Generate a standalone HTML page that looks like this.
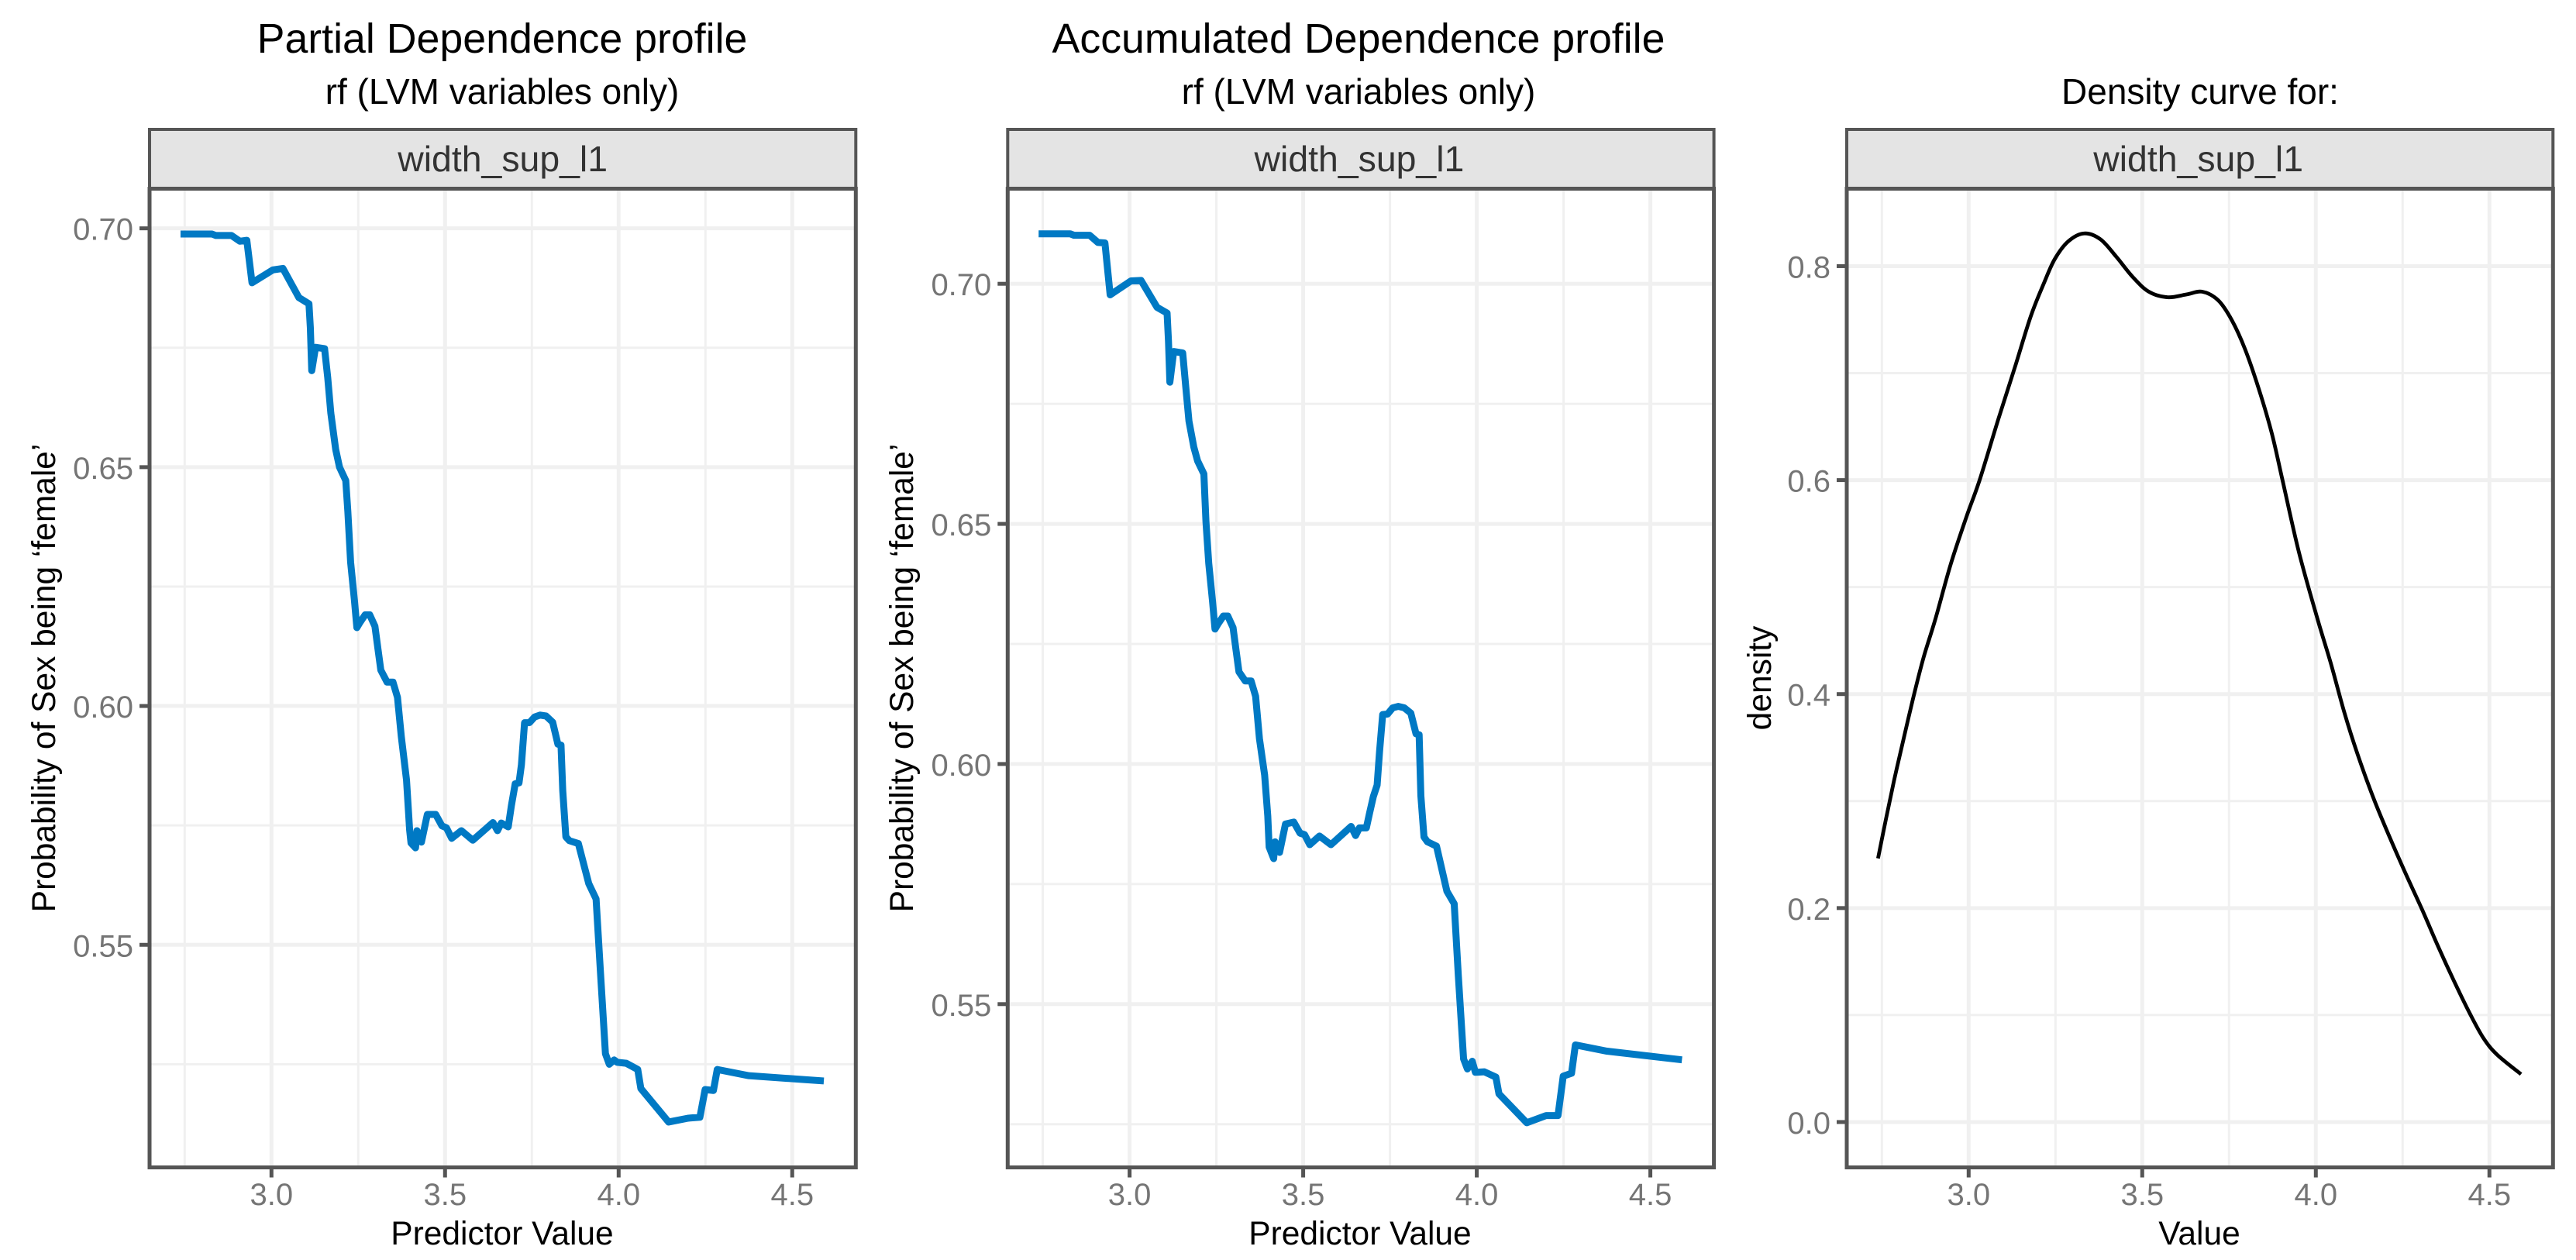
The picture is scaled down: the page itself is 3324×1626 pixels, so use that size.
<!DOCTYPE html>
<html lang="en">
<head>
<meta charset="utf-8">
<title>Partial and Accumulated Dependence profiles</title>
<style>
html,body{margin:0;padding:0;background:#fff;width:3324px;height:1626px;overflow:hidden}
svg{display:block;font-family:"Liberation Sans",Arial,sans-serif}
</style>
</head>
<body>
<svg id="chart" xmlns="http://www.w3.org/2000/svg" width="3324" height="1626" viewBox="0 0 3324 1626">
  <rect x="0" y="0" width="3324" height="1626" fill="#ffffff"/>
  <text x="648" y="68" font-size="53.7" text-anchor="middle" fill="#000">Partial Dependence profile</text>
  <text x="648" y="134" font-size="46" text-anchor="middle" fill="#000">rf (LVM variables only)</text>
  <text x="1753" y="68" font-size="53.7" text-anchor="middle" fill="#000">Accumulated Dependence profile</text>
  <text x="1753" y="134" font-size="46" text-anchor="middle" fill="#000">rf (LVM variables only)</text>
  <text x="2839" y="134" font-size="46" text-anchor="middle" fill="#000">Density curve for:</text>
  <text transform="translate(71 875) rotate(-90)" font-size="42.5" text-anchor="middle" fill="#000">Probability of Sex being ‘female’</text>
  <text transform="translate(1178 875) rotate(-90)" font-size="42.5" text-anchor="middle" fill="#000">Probability of Sex being ‘female’</text>
  <text transform="translate(2285 875) rotate(-90)" font-size="42.5" text-anchor="middle" fill="#000">density</text>
  <text x="648" y="1606" font-size="42.5" text-anchor="middle" fill="#000">Predictor Value</text>
  <text x="1755" y="1606" font-size="42.5" text-anchor="middle" fill="#000">Predictor Value</text>
  <text x="2838" y="1606" font-size="42.5" text-anchor="middle" fill="#000">Value</text>
</svg>
<script>
const predictorValues = [2.738,2.829,2.840,2.885,2.909,2.929,2.944,3.004,3.033,3.079,3.108,3.112,3.116,3.127,3.153,3.162,3.171,3.185,3.196,3.214,3.220,3.228,3.239,3.246,3.255,3.270,3.283,3.298,3.307,3.315,3.333,3.350,3.363,3.374,3.389,3.398,3.402,3.415,3.419,3.432,3.449,3.473,3.491,3.504,3.519,3.547,3.580,3.638,3.651,3.662,3.682,3.691,3.702,3.713,3.720,3.729,3.743,3.758,3.774,3.791,3.810,3.825,3.834,3.839,3.848,3.858,3.884,3.914,3.935,3.947,3.962,3.973,3.987,3.996,4.022,4.055,4.064,4.144,4.200,4.234,4.249,4.273,4.284,4.375,4.591];
const partialDependence = [0.6988,0.6988,0.6985,0.6985,0.6973,0.6975,0.6886,0.6913,0.6916,0.6855,0.6842,0.6792,0.6702,0.6751,0.6748,0.6688,0.6613,0.6537,0.6500,0.6472,0.6407,0.6301,0.6221,0.6164,0.6175,0.6191,0.6191,0.6167,0.6118,0.6075,0.6050,0.6050,0.6018,0.5936,0.5845,0.5740,0.5713,0.5703,0.5739,0.5715,0.5773,0.5773,0.5749,0.5745,0.5723,0.5739,0.5719,0.5756,0.5739,0.5755,0.5747,0.5791,0.5837,0.5839,0.5877,0.5965,0.5965,0.5977,0.5981,0.5979,0.5966,0.5920,0.5918,0.5823,0.5726,0.5718,0.5712,0.5628,0.5596,0.5450,0.5272,0.5250,0.5259,0.5254,0.5252,0.5239,0.5199,0.5129,0.5137,0.5139,0.5197,0.5195,0.5239,0.5226,0.5215];
const accumulatedDependence = [0.7104,0.7104,0.7101,0.7101,0.7086,0.7085,0.6977,0.7006,0.7007,0.6951,0.6939,0.6881,0.6795,0.6859,0.6856,0.6784,0.6714,0.6660,0.6631,0.6604,0.6504,0.6418,0.6338,0.6281,0.6292,0.6308,0.6308,0.6284,0.6235,0.6192,0.6173,0.6173,0.6141,0.6053,0.5977,0.5892,0.5827,0.5803,0.5838,0.5816,0.5875,0.5879,0.5856,0.5853,0.5832,0.5850,0.5832,0.5870,0.5851,0.5867,0.5867,0.5897,0.5932,0.5956,0.6026,0.6103,0.6104,0.6117,0.6120,0.6117,0.6106,0.6063,0.6061,0.5934,0.5848,0.5838,0.5829,0.5735,0.5709,0.5558,0.5386,0.5365,0.5381,0.5358,0.5359,0.5348,0.5313,0.5253,0.5268,0.5268,0.5350,0.5356,0.5415,0.5402,0.5384];
const densityValues = [2.739,2.762,2.785,2.809,2.840,2.870,2.904,2.948,2.994,3.032,3.086,3.133,3.179,3.218,3.248,3.287,3.333,3.380,3.426,3.472,3.519,3.573,3.627,3.673,3.719,3.758,3.796,3.835,3.873,3.904,3.951,4.005,4.043,4.082,4.120,4.167,4.213,4.259,4.306,4.352,4.398,4.444,4.483,4.522,4.591];
const densityHeights = [0.2464,0.2835,0.3190,0.3530,0.3960,0.4340,0.4699,0.5210,0.5660,0.6004,0.6575,0.7053,0.7532,0.7850,0.8066,0.8232,0.8306,0.8250,0.8085,0.7901,0.7761,0.7709,0.7735,0.7761,0.7680,0.7495,0.7225,0.6860,0.6440,0.6000,0.5330,0.4700,0.4290,0.3830,0.3440,0.3020,0.2660,0.2320,0.1987,0.1643,0.1318,0.1012,0.0783,0.0630,0.0447];
const xMajorTicks = [3.0,3.5,4.0,4.5];
const xMinorTicks = [2.75,3.25,3.75,4.25];
const profileYMajorPdp = [0.55,0.60,0.65,0.70];
const profileYMinorPdp = [0.525,0.575,0.625,0.675];
const profileYMajorAle = [0.55,0.60,0.65,0.70];
const profileYMinorAle = [0.525,0.575,0.625,0.675];
const densityYMajor = [0.0,0.2,0.4,0.6,0.8];
const densityYMinor = [0.1,0.3,0.5,0.7];
const stripLabel = "width_sup_l1";

const NS = "http://www.w3.org/2000/svg";
const svg = document.getElementById("chart");
function make(tag, attrs, parent) {
  const el = document.createElementNS(NS, tag);
  for (const k in attrs) el.setAttribute(k, attrs[k]);
  (parent || svg).appendChild(el);
  return el;
}
const BORDER = "#555555", GRID = "#f0f0f0", TICKTEXT = "#757575";
const TOP = 243.5, BOTTOM = 1506.5, STRIP_TOP = 167;

function drawPanel(p) {
  const x = v => p.left + (v - p.xMin) / (p.xMax - p.xMin) * (p.right - p.left);
  const y = v => BOTTOM - (v - p.yMin) / (p.yMax - p.yMin) * (BOTTOM - TOP);
  const group = make("g", {});
  
  

  const strip = make("rect", {x: p.left, y: STRIP_TOP, width: p.right - p.left, height: TOP - STRIP_TOP, fill: "#e4e4e4", stroke: BORDER, "stroke-width": 4}, group);
  
  
  const stripText = make("text", {x: (p.left + p.right) / 2 + p.stripDx, y: 221, "font-size": 46.4, "text-anchor": "middle", fill: "#333333"}, group);
  stripText.textContent = stripLabel;
  
  

  xMinorTicks.forEach(v => {
    const g = make("line", {x1: x(v), x2: x(v), y1: TOP, y2: BOTTOM, stroke: GRID, "stroke-width": 3}, group);
    
    
  });
  p.yMinor.forEach(v => {
    const g = make("line", {x1: p.left, x2: p.right, y1: y(v), y2: y(v), stroke: GRID, "stroke-width": 3}, group);
    
    
  });
  xMajorTicks.forEach(v => {
    const g = make("line", {x1: x(v), x2: x(v), y1: TOP, y2: BOTTOM, stroke: GRID, "stroke-width": 5}, group);
    
    
    const t = make("line", {x1: x(v), x2: x(v), y1: BOTTOM, y2: BOTTOM + 13, stroke: BORDER, "stroke-width": 5}, group);
    
    
    const l = make("text", {x: x(v), y: 1555, "font-size": 40, "text-anchor": "middle", fill: TICKTEXT}, group);
    l.textContent = v.toFixed(1);
    
    
  });
  p.yMajor.forEach(v => {
    const g = make("line", {x1: p.left, x2: p.right, y1: y(v), y2: y(v), stroke: GRID, "stroke-width": 5}, group);
    
    
    const t = make("line", {x1: p.left - 13, x2: p.left, y1: y(v), y2: y(v), stroke: BORDER, "stroke-width": 5}, group);
    
    
    const l = make("text", {x: p.left - 21, y: y(v) + 15, "font-size": 40, "text-anchor": "end", fill: TICKTEXT}, group);
    l.textContent = v.toFixed(p.digits);
    
    
  });

  let d = "";
  if (p.smooth) {
    const pts = p.xs.map((v, i) => [x(v), y(p.ys[i])]);
    d = "M" + pts[0][0].toFixed(2) + " " + pts[0][1].toFixed(2);
    for (let i = 0; i < pts.length - 1; i++) {
      const a = pts[Math.max(i - 1, 0)], b = pts[i], c = pts[i + 1], e = pts[Math.min(i + 2, pts.length - 1)];
      d += "C" + (b[0] + (c[0] - a[0]) / 6).toFixed(2) + " " + (b[1] + (c[1] - a[1]) / 6).toFixed(2) + " " +
           (c[0] - (e[0] - b[0]) / 6).toFixed(2) + " " + (c[1] - (e[1] - b[1]) / 6).toFixed(2) + " " +
           c[0].toFixed(2) + " " + c[1].toFixed(2);
    }
  } else {
    d = p.xs.map((v, i) => (i ? "L" : "M") + x(v).toFixed(2) + " " + y(p.ys[i]).toFixed(2)).join("");
  }
  const line = make("path", {d: d, fill: "none", stroke: p.color, "stroke-width": p.width, "stroke-linejoin": "round", "stroke-linecap": "butt"}, group);
  
  

  const frame = make("rect", {x: p.left, y: TOP, width: p.right - p.left, height: BOTTOM - TOP, fill: "none", stroke: BORDER, "stroke-width": 5}, group);
  
  
}

drawPanel({key: "pdp", left: 193, right: 1104.3, xMin: 2.6489, xMax: 4.6831, yMin: 0.5034, yMax: 0.7083, yMajor: profileYMajorPdp, yMinor: profileYMinorPdp, digits: 2, xs: predictorValues, ys: partialDependence, color: "#0079c4", width: 9, smooth: false, stripDx: 0});
drawPanel({key: "ale", left: 1300.3, right: 2211.6, xMin: 2.6489, xMax: 4.6831, yMin: 0.5160, yMax: 0.7198, yMajor: profileYMajorAle, yMinor: profileYMinorAle, digits: 2, xs: predictorValues, ys: accumulatedDependence, color: "#0079c4", width: 9, smooth: false, stripDx: -2});
drawPanel({key: "density", left: 2383, right: 3294.3, xMin: 2.6489, xMax: 4.6831, yMin: -0.0424, yMax: 0.8724, yMajor: densityYMajor, yMinor: densityYMinor, digits: 1, xs: densityValues, ys: densityHeights, color: "#000000", width: 4.8, smooth: true, stripDx: -2});
</script>
</body>
</html>
